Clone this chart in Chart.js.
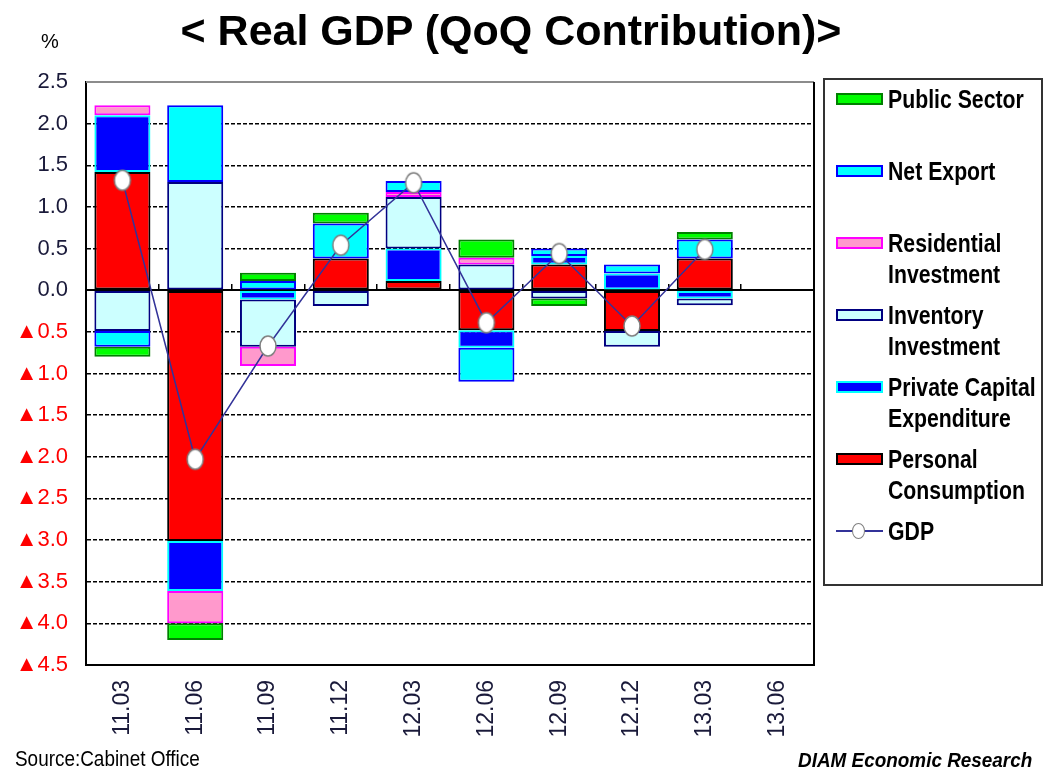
<!DOCTYPE html>
<html>
<head>
<meta charset="utf-8">
<script src="https://cdn.jsdelivr.net/npm/chart.js@4.4.1/dist/chart.umd.min.js"></script>
<style>
  body { margin: 0; background: #fff; }
  #wrap { position: relative; width: 1044px; height: 774px; overflow: hidden; font-family: "Liberation Sans", Arial, sans-serif; color: #000; }
  #chart { position: absolute; left: 0; top: 0; }
  .txt { position: absolute; white-space: nowrap; }
  #title { left: 0; width: 1022px; top: 9px; text-align: center; font-weight: bold; font-size: 43px; line-height: 43px; }
  #pct { left: 41px; top: 31px; font-size: 20px; line-height: 20px; }
  #source { left: 15px; top: 748px; font-size: 22px; line-height: 22px; transform: scaleX(0.86); transform-origin: left top; }
  #credit { right: 12px; top: 749px; font-size: 21px; line-height: 21px; font-weight: bold; font-style: italic; transform: scaleX(0.9); transform-origin: right top; }
  #legendBox { position: absolute; left: 823px; top: 78px; width: 216px; height: 504px; border: 2px solid #333; }
  .swatch { position: absolute; width: 43px; height: 8px; border: 2px solid; }
  .lgText { position: absolute; left: 888px; font-weight: bold; font-size: 25px; line-height: 31px; white-space: pre; transform: scaleX(0.85); transform-origin: left top; }
</style>
</head>
<body>
<div id="wrap">
  <canvas id="chart" width="1044" height="774"></canvas>
  <div class="txt" id="title">&lt; Real GDP (QoQ Contribution)&gt;</div>
  <div class="txt" id="pct">%</div>
  <div class="txt" id="source">Source:Cabinet Office</div>
  <div class="txt" id="credit">DIAM Economic Research</div>
  <div id="legendBox"></div>
</div>
<script>
const categories = ['11.03', '11.06', '11.09', '11.12', '12.03', '12.06', '12.09', '12.12', '13.03', '13.06'];

// contributions, in stacking order (first one sits next to the axis)
const personalConsumption = [1.42, -3.01, null, 0.38, 0.11, -0.48, 0.31, -0.49, 0.38, null];
const privateCapex = [0.68, -0.6, -0.11, null, 0.39, -0.21, 0.1, 0.2, -0.1, null];
const inventoryInvestment = [-0.49, 1.3, -0.57, -0.19, 0.62, 0.31, -0.1, -0.19, -0.08, null];
const residentialInvestment = [0.12, -0.39, -0.23, null, 0.06, 0.08, null, null, null, null];
const netExport = [-0.19, 0.92, 0.11, 0.42, 0.13, -0.41, 0.09, 0.11, 0.23, null];
const publicSector = [-0.12, -0.2, 0.1, 0.13, null, 0.22, -0.09, null, 0.09, null];
const gdp = [1.32, -2.03, -0.67, 0.54, 1.29, -0.39, 0.44, -0.43, 0.49, null];

const seriesNames = ['Personal\nConsumption', 'Private Capital\nExpenditure', 'Inventory\nInvestment', 'Residential\nInvestment', 'Net Export', 'Public Sector'];
const seriesData = [personalConsumption, privateCapex, inventoryInvestment, residentialInvestment, netExport, publicSector];
const fillColors = ['#ff0000', '#0000ff', '#ccffff', '#ff99cc', '#00ffff', '#00ff00'];
const edgeColors = ['#000000', '#00ffff', '#000080', '#ff00ff', '#0000ff', '#008000'];
const gdpColor = '#333399';

const yMin = -4.5;
const yMax = 2.5;
const yStep = 0.5;

function makeMarker() {
    let c = document.createElement('canvas');
    c.width = 20;
    c.height = 24;
    let g = c.getContext('2d');
    g.beginPath();
    g.ellipse(10, 12, 8, 10, 0, 0, Math.PI * 2);
    g.fillStyle = '#ffffff';
    g.fill();
    g.lineWidth = 1.5;
    g.strokeStyle = '#7f7f7f';
    g.stroke();
    return c;
}

function tickLabel(value) {
    if (value < 0) return '\u25B2' + (-value).toFixed(1);
    return value.toFixed(1);
}

function isEdge(value) {
    return Math.abs(value) < 1e-9 || Math.abs(value - yMax) < 1e-9 || Math.abs(value - yMin) < 1e-9;
}

const plotFrame = {
    id: 'plotFrame',
    beforeDatasetsDraw(chart) {
        let ctx = chart.ctx;
        let a = chart.chartArea;
        ctx.save();
        ctx.lineWidth = 2;
        ctx.strokeStyle = '#8c8c8c';
        ctx.beginPath();
        ctx.moveTo(a.left, a.top);
        ctx.lineTo(a.right, a.top);
        ctx.stroke();
        ctx.strokeStyle = '#000000';
        ctx.beginPath();
        ctx.moveTo(a.right, a.top);
        ctx.lineTo(a.right, a.bottom);
        ctx.stroke();
        ctx.restore();
    }
};

let datasets = [{
    type: 'line',
    label: 'GDP',
    data: gdp,
    order: 0,
    borderColor: gdpColor,
    borderWidth: 1.5,
    pointStyle: makeMarker(),
    pointRadius: 10,
    spanGaps: false
}];

for (let i = 0; i < seriesNames.length; i++) {
    datasets.push({
        type: 'bar',
        label: seriesNames[i],
        data: seriesData[i],
        order: 1,
        backgroundColor: fillColors[i],
        borderColor: edgeColors[i],
        borderWidth: 2,
        borderSkipped: false,
        categoryPercentage: 1,
        barPercentage: 0.77
    });
}

new Chart(document.getElementById('chart'), {
    data: { labels: categories, datasets: datasets },
    plugins: [plotFrame],
    options: {
        responsive: false,
        animation: false,
        layout: { padding: { top: 82, right: 230, left: 0, bottom: 0 } },
        plugins: { legend: { display: false }, tooltip: { enabled: false } },
        scales: {
            x: {
                stacked: true,
                offset: true,
                grid: { display: false, drawTicks: false },
                border: { display: true, color: '#000', width: 2 },
                ticks: {
                    minRotation: 90,
                    maxRotation: 90,
                    padding: 15,
                    color: '#1a1a3a',
                    font: { family: 'Liberation Sans', size: 23 }
                },
                afterFit: s => { s.height = 109; }
            },
            x2: {
                type: 'category',
                labels: categories,
                position: { y: 0 },
                offset: true,
                grid: { offset: true, drawOnChartArea: false, drawTicks: true, tickLength: -7, color: '#000', lineWidth: 1.5 },
                ticks: { display: false },
                border: { display: true, color: '#000', width: 2 }
            },
            y: {
                stacked: true,
                min: yMin,
                max: yMax,
                ticks: {
                    stepSize: yStep,
                    padding: 18,
                    callback: v => tickLabel(v),
                    color: c => c.tick.value < 0 ? '#ff0000' : '#1a1a3a',
                    font: { family: 'Liberation Sans', size: 22 }
                },
                grid: {
                    drawTicks: false,
                    lineWidth: 1.5,
                    color: c => isEdge(c.tick.value) ? 'rgba(0,0,0,0)' : '#000000'
                },
                border: { display: true, color: '#000', width: 2, dash: [4, 2] },
                afterFit: s => { s.width = 86; }
            }
        }
    }
});

// legend, top entry = last stacked series, GDP last
let wrap = document.getElementById('wrap');
let legendOrder = [5, 4, 3, 2, 1, 0];
for (let k = 0; k < legendOrder.length; k++) {
    let i = legendOrder[k];
    let cy = 99 + 72 * k;
    let sw = document.createElement('div');
    sw.className = 'swatch';
    sw.style.left = '836px';
    sw.style.top = (cy - 6) + 'px';
    sw.style.background = fillColors[i];
    sw.style.borderColor = edgeColors[i];
    wrap.appendChild(sw);
    let t = document.createElement('div');
    t.className = 'lgText';
    t.style.top = (cy - 15) + 'px';
    t.textContent = seriesNames[i];
    wrap.appendChild(t);
}
let gy = 99 + 72 * 6;
let ln = document.createElement('div');
ln.style.cssText = 'position:absolute;left:836px;width:47px;height:2px;background:' + gdpColor + ';top:' + (gy - 1) + 'px';
wrap.appendChild(ln);
let mk = document.createElement('div');
mk.style.cssText = 'position:absolute;left:852px;width:11px;height:14px;border:1.5px solid #7f7f7f;border-radius:50%;background:#fff;top:' + (gy - 8) + 'px';
wrap.appendChild(mk);
let gt = document.createElement('div');
gt.className = 'lgText';
gt.style.top = (gy - 15) + 'px';
gt.textContent = 'GDP';
wrap.appendChild(gt);
</script>
</body>
</html>
